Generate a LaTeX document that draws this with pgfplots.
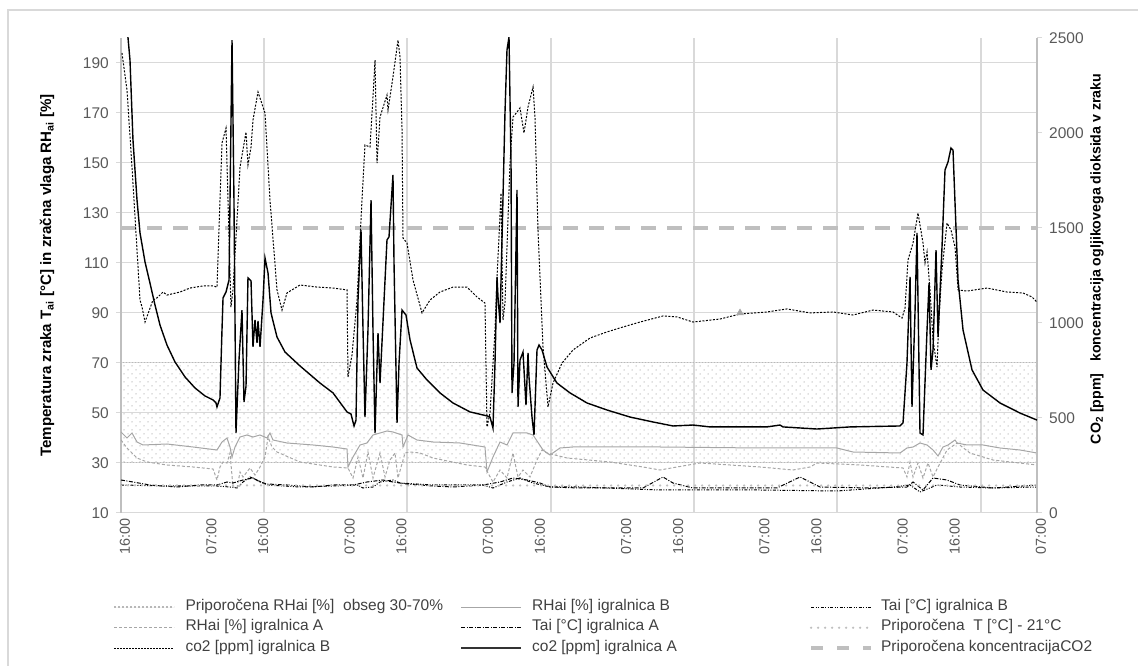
\documentclass[border=0pt]{standalone}
\usepackage{fontspec}
\setmainfont{Liberation Sans}
\usepackage{pgfplots}
\pgfplotsset{compat=1.18}
\usetikzlibrary{patterns}
\pgfdeclarepatternformonly{mydots}{\pgfqpoint{-1pt}{-1pt}}{\pgfqpoint{5pt}{5pt}}{\pgfqpoint{8pt}{8pt}}{%
  \pgfpathcircle{\pgfqpoint{0pt}{0pt}}{0.75pt}\pgfusepath{fill}%
  \pgfpathcircle{\pgfqpoint{4pt}{4pt}}{0.75pt}\pgfusepath{fill}}
\definecolor{gridc}{HTML}{D9D9D9}
\definecolor{tickc}{HTML}{595959}
\definecolor{rhc}{HTML}{A6A6A6}
\definecolor{recc}{HTML}{BFBFBF}
\definecolor{legc}{HTML}{404040}
\pgfplotsset{
  commonaxis/.style={
    at={(121pt,153pt)}, anchor=south west,
    scale only axis, width=916pt, height=475pt,
    xmin=0, xmax=159,
    clip=true,
    yticklabel style={font=\fontsize{15.5}{18}\selectfont, text=tickc},
    xticklabel style={font=\fontsize{14.4}{17}\selectfont, text=tickc},
    /pgf/number format/assume math mode=true,
    /pgf/number format/1000 sep={},
    tick align=outside,
    major tick length=5pt,
    tick style={gridc, line width=1pt},
  }
}
\begin{document}
\begin{tikzpicture}[x=1pt,y=1pt]
\useasboundingbox (0,0) rectangle (1138,666);
\draw[gridc, line width=1.5pt] (8,0) -- (8,656) -- (1138,656);
\begin{axis}[
  commonaxis,
  ymin=10, ymax=200,
  axis x line*=bottom, axis y line*=left,
  x axis line style={-, gridc, line width=1pt},
  y axis line style={-, recc, line width=1.5pt},
  ytick={10,30,...,190},
  ymajorgrids,
  major grid style={gridc, line width=1pt},
  xtick={0,15,24,39,48,63,72,87,96,111,120,135,144,159},
  xticklabels={16:00,07:00,16:00,07:00,16:00,07:00,16:00,07:00,16:00,07:00,16:00,07:00,16:00,07:00},
  x tick style={draw=none},
  xticklabel style={rotate=90, anchor=east, inner sep=0pt, yshift=-4pt},
  yticklabel style={inner sep=0pt, xshift=-7pt},
  extra x ticks={24.82,49.64,74.64,99.47,124.28,149.27},
  extra x tick labels={},
  extra x tick style={grid=major, major grid style={gridc, line width=1.6pt}, major tick length=0pt},
  every axis y label/.style={at={(axis description cs:-0.0808,0.5)}, rotate=90, anchor=center,
    font=\bfseries\fontsize{15.1}{18}\selectfont},
  ylabel={Temperatura zraka T\textsubscript{ai} [°C] in zračna vlaga RH\textsubscript{ai} [\%]},
  legend columns=3,
  legend cell align=left,
  legend style={at={(axis description cs:-0.0087,-0.183)}, anchor=north west,
    draw=none, fill=none, inner sep=0pt, outer sep=0pt, row sep=6pt, column sep=0pt,
    font=\fontsize{15.5}{18}\selectfont, text=legc,
    nodes={inner sep=0pt, outer sep=0pt, text height=10.5pt, text depth=4pt}},
  legend image code/.code={\draw[#1] (0pt,0pt) -- (60pt,0pt);},
]
% recommended RH band 30-70 %
\addplot[draw=rhc!80, line width=1pt, dash pattern=on 1pt off 2pt, pattern=mydots, pattern color=rhc!70,
  legend image code/.code={\draw[rhc!80, line width=2.5pt, dash pattern=on 2pt off 2pt] (0pt,0pt) -- (60pt,0pt);}]
  coordinates {(0,30) (0,70) (159,70) (159,30)} -- cycle;
\addlegendentry{\makebox[285pt][l]{\hspace{10pt}Priporočena RHai [\%]\ \ obseg 30-70\%}}
% RH B
\addplot[rhc, line width=1pt] coordinates {
(0,42.4)(1.04,40.0)(1.91,42.0)(2.78,38.4)(3.82,37.2)(7.98,37.6)(12.50,36.4)(16.66,35.2)(17.53,38.4)(18.40,40.0)(18.92,36.4)(19.27,32.4)(19.79,36.4)(20.66,40.4)(21.87,41.2)(22.91,40.4)(24.13,41.2)(25.34,40.0)(25.86,42.0)(26.38,39.2)(28.81,38.0)(33.33,37.2)(36.80,36.4)(39.23,35.6)(39.40,28.4)(40.27,32.4)(41.49,37.2)(42.70,38.0)(43.74,41.2)(44.96,42.0)(46.17,42.8)(47.21,42.4)(48.78,41.2)(48.95,36.4)(49.82,41.2)(51.38,39.2)(54.16,38.4)(58.84,38.0)(63.18,36.4)(63.53,26.4)(64.57,32.4)(65.79,38.4)(67.00,37.2)(68.04,42.0)(70.47,42.0)(71.52,41.2)(73.25,35.2)(74.47,33.2)(76.20,36.0)(78.46,36.4)(93.56,36.4)(110.92,36.0)(124.28,36.0)(127.06,34.4)(135.22,34.0)(136.43,36.0)(137.48,36.4)(138.69,38.0)(139.91,37.2)(140.95,35.2)(141.82,32.8)(142.68,36.4)(143.55,37.2)(144.77,39.2)(145.12,38.0)(146.85,37.2)(149.63,37.2)(152.58,36.0)(156.05,35.2)(159.00,34.0)};
\addlegendentry{\makebox[287pt][l]{\hspace{10pt}RHai [\%] igralnica B}}
% Tai B
\addplot[black, line width=1pt, dash pattern=on 3pt off 1.5pt on 1pt off 1.5pt on 1pt off 1.5pt] coordinates {
(0,21.2)(7.98,20.8)(16.66,20.8)(18.92,20.4)(20.14,20.0)(21.18,22.4)(22.39,24.4)(23.61,23.2)(25.34,21.2)(31.07,20.4)(36.80,20.8)(40.97,21.2)(42.01,20.0)(43.74,20.4)(44.96,22.4)(47.21,23.2)(48.43,22.0)(54.16,21.2)(62.84,21.2)(64.57,20.0)(67.00,22.4)(69.26,24.0)(71.52,22.0)(74.47,20.4)(79.67,20.4)(93.56,19.2)(110.92,19.2)(124.28,18.8)(134.00,20.4)(136.96,21.2)(138.69,18.4)(141.64,21.2)(145.64,20.4)(151.36,20.0)(159.00,20.4)};
\addlegendentry{\hspace{8pt}Tai [°C] igralnica B}
% RH A
\addplot[rhc, line width=1pt, dash pattern=on 3pt off 2pt] coordinates {
(0,39.2)(1.04,36.0)(2.78,32.0)(4.51,30.4)(7.98,29.2)(12.50,28.4)(15.97,27.6)(16.66,23.2)(17.18,28.4)(17.71,30.4)(18.40,30.0)(18.92,34.0)(19.44,20.4)(20.14,20.0)(20.66,26.4)(21.18,24.4)(22.39,28.0)(23.26,25.2)(24.13,28.4)(25.00,32.4)(25.52,40.4)(26.21,36.4)(27.08,34.4)(31.07,30.4)(36.80,28.4)(39.40,28.0)(40.27,24.0)(41.14,32.4)(42.01,24.0)(42.87,34.4)(43.74,24.0)(44.96,34.0)(45.83,24.4)(46.69,31.2)(47.56,34.0)(48.08,24.0)(49.30,34.0)(50.17,34.4)(51.90,34.0)(54.16,32.0)(60.06,29.2)(63.18,28.4)(63.70,26.0)(64.57,22.4)(65.79,27.2)(67.00,24.0)(68.04,34.0)(68.91,24.4)(69.78,27.2)(70.99,24.4)(72.21,31.2)(73.08,35.2)(73.95,34.0)(77.42,32.0)(84.88,30.4)(90.61,28.4)(93.56,27.2)(96.51,28.4)(100.50,30.0)(110.92,28.4)(116.65,27.2)(119.60,28.4)(120.81,30.0)(128.28,29.2)(135.74,28.0)(136.43,24.4)(136.96,30.4)(137.48,24.4)(138.34,30.0)(139.21,24.0)(140.08,30.0)(140.95,24.4)(141.82,28.4)(143.38,35.2)(145.12,38.0)(147.37,34.0)(151.36,31.2)(159.00,29.2)};
\addlegendentry{\makebox[285pt][l]{\hspace{10pt}RHai [\%] igralnica A}}
% Tai A
\addplot[black, line width=1pt, dash pattern=on 4pt off 1.5pt on 1pt off 1.5pt] coordinates {
(0,23.2)(2.08,22.4)(5.03,21.2)(9.72,20.4)(13.71,21.2)(16.66,21.2)(18.40,22.4)(19.44,22.0)(21.18,23.2)(22.91,24.0)(24.13,22.4)(25.34,21.6)(28.81,21.2)(33.33,20.4)(36.80,21.2)(40.27,21.2)(42.70,22.4)(45.48,23.2)(47.21,22.4)(49.64,21.6)(54.16,20.8)(57.63,20.4)(62.84,21.2)(65.79,22.4)(68.04,24.0)(70.47,23.2)(72.73,22.0)(74.47,20.4)(79.67,20.0)(90.61,20.0)(94.08,24.4)(95.82,22.0)(99.29,20.0)(113.87,20.0)(117.86,24.4)(119.60,22.4)(121.34,20.4)(130.01,20.0)(136.43,20.4)(137.48,22.4)(139.21,19.2)(140.95,24.0)(143.38,23.2)(145.64,21.2)(151.36,20.0)(159.00,21.2)};
\addlegendentry{\makebox[287pt][l]{\hspace{10pt}Tai [°C] igralnica A}}
% recommended T 21 C
\addplot[recc, line width=2.5pt, line cap=round, dash pattern=on 0pt off 7pt] coordinates {(0,21) (159,21)};
\addlegendentry{\hspace{8pt}Priporočena\ \ T [°C] - 21°C}
% legend images for the CO2 series of the right axis
\addlegendimage{black, line width=1pt, dash pattern=on 1.5pt off 1.5pt}
\addlegendentry{\makebox[285pt][l]{\hspace{10pt}co2 [ppm] igralnica B}}
\addlegendimage{black!80, line width=1.6pt}
\addlegendentry{\makebox[287pt][l]{\hspace{10pt}co2 [ppm] igralnica A}}
\addlegendimage{recc, line width=4pt, dash pattern=on 12pt off 14pt}
\addlegendentry{\hspace{8pt}Priporočena koncentracijaCO2}
\end{axis}
\begin{axis}[
  commonaxis,
  ymin=0, ymax=2500,
  axis x line=none, axis y line*=right,
  y axis line style={-, recc, line width=1.5pt},
  ytick={0,500,...,2500},
  yticklabel style={inner sep=0pt, xshift=7pt},
  every axis y label/.style={at={(axis description cs:1.0655,0.535)}, rotate=90, anchor=center,
    font=\bfseries\fontsize{14.2}{17}\selectfont},
  ylabel={CO\textsubscript{2} [ppm]\ \ \ koncentracija ogljikovega dioksida v zraku},
]
\addplot[recc, line width=4pt, dash pattern=on 15pt off 11pt] coordinates {(0,1500) (159,1500)};
% co2 B
\addplot[black, line width=1pt, dash pattern=on 2pt off 1.5pt] coordinates {
(0.17,2421)(1.04,2226)(1.91,1821)(2.78,1384)(3.30,1121)(3.65,1084)(4.17,1005)(5.55,1121)(6.25,1132)(7.29,1163)(7.98,1147)(10.24,1163)(11.98,1184)(14.23,1195)(15.97,1195)(16.66,1189)(17.53,1947)(18.23,2026)(18.57,1647)(19.09,1084)(19.44,1174)(20.66,1821)(21.70,2005)(22.04,1832)(22.57,1926)(22.91,2068)(23.78,2216)(25.00,2105)(25.86,1647)(27.08,1174)(27.95,1068)(28.81,1158)(31.07,1200)(34.02,1189)(36.80,1184)(39.23,1174)(39.40,716)(40.10,832)(40.97,1121)(41.83,1647)(42.35,1937)(43.22,1926)(43.74,2189)(44.09,2384)(44.44,1842)(44.96,2084)(46.17,2200)(46.35,2121)(47.21,2295)(48.08,2489)(48.43,2400)(48.78,2016)(48.95,1447)(49.64,1421)(50.69,1226)(52.25,1053)(53.64,1121)(55.37,1163)(57.63,1189)(60.06,1189)(61.79,1137)(63.18,1105)(63.53,453)(64.05,526)(64.92,963)(65.27,1242)(65.61,1453)(65.96,1684)(66.31,1016)(66.65,1105)(67.52,1842)(68.04,2084)(68.74,2110)(69.26,2132)(69.95,2000)(70.65,2137)(71.52,2242)(71.86,2084)(72.38,1489)(73.25,874)(74.12,558)(74.99,684)(76.55,789)(78.46,858)(81.41,921)(84.36,953)(87.14,979)(90.09,1005)(94.08,1037)(96.51,1032)(99.29,1005)(103.98,1021)(107.45,1047)(112.13,1058)(115.61,1074)(119.60,1053)(123.59,1058)(127.06,1042)(130.53,1068)(134.00,1058)(135.57,1026)(136.09,1079)(136.61,1332)(137.48,1421)(138.34,1579)(139.21,1421)(139.56,1316)(139.91,1374)(140.43,1174)(140.95,911)(141.64,768)(141.99,1032)(142.51,1279)(143.38,1526)(144.07,1489)(144.77,1400)(145.29,1174)(146.85,1168)(150.32,1184)(153.79,1163)(156.57,1158)(158.13,1137)(159.00,1110)};
% co2 A
\addplot[black, line width=1.4pt] coordinates {
(0.69,2621)(1.22,2500)(1.56,2384)(2.08,1963)(2.78,1647)(3.30,1474)(4.17,1321)(5.03,1210)(5.90,1095)(6.77,989)(7.98,884)(9.37,795)(11.11,716)(12.85,658)(14.58,616)(15.97,595)(16.49,579)(16.66,558)(17.18,605)(17.53,963)(17.71,1132)(18.23,1163)(18.75,1226)(19.27,2489)(19.61,1647)(19.96,421)(20.48,805)(21.00,1068)(21.35,584)(21.70,668)(22.04,1237)(22.57,1221)(22.91,874)(23.26,1016)(23.61,895)(23.78,1011)(24.13,874)(24.65,1121)(25.00,1342)(25.52,1263)(26.04,1053)(27.08,926)(28.47,847)(31.07,774)(34.54,684)(36.80,632)(39.23,532)(39.92,521)(40.45,458)(40.79,489)(41.14,1121)(41.66,1489)(42.01,963)(42.35,505)(42.87,963)(43.40,1647)(43.74,963)(44.09,421)(44.61,947)(44.96,684)(46.17,1437)(46.52,1453)(47.21,1779)(47.39,1316)(47.91,474)(48.26,789)(48.78,1068)(49.47,1042)(50.17,911)(51.38,763)(53.12,700)(55.37,632)(57.63,579)(60.58,532)(63.53,511)(64.05,505)(64.57,447)(64.92,789)(65.27,1242)(65.44,1137)(65.79,1000)(66.31,1663)(66.65,2105)(67.00,2437)(67.35,2505)(67.70,1842)(67.87,632)(68.22,789)(68.74,1700)(68.91,558)(69.26,805)(69.78,847)(70.30,568)(70.65,842)(70.82,716)(71.34,505)(71.69,411)(72.21,858)(72.56,884)(73.08,858)(73.95,768)(75.68,684)(77.94,632)(80.89,579)(84.36,542)(88.35,505)(92.35,479)(95.82,458)(99.29,463)(102.24,453)(106.23,453)(112.13,453)(114.39,463)(114.91,453)(120.81,442)(126.54,453)(135.22,458)(135.74,474)(136.43,789)(136.96,1242)(137.30,558)(137.82,1053)(138.17,1474)(138.69,421)(139.21,411)(139.91,963)(140.26,1210)(140.60,753)(140.95,858)(141.47,1384)(141.82,926)(142.51,1400)(143.03,1805)(143.55,1847)(144.07,1921)(144.42,1910)(144.77,1632)(145.29,1226)(146.16,963)(147.72,753)(149.63,647)(152.58,579)(156.05,526)(159.00,489)};
\addplot[only marks, mark=triangle*, mark size=4pt, rhc] coordinates {(107.45,1053)};
\end{axis}
\end{tikzpicture}
\end{document}
